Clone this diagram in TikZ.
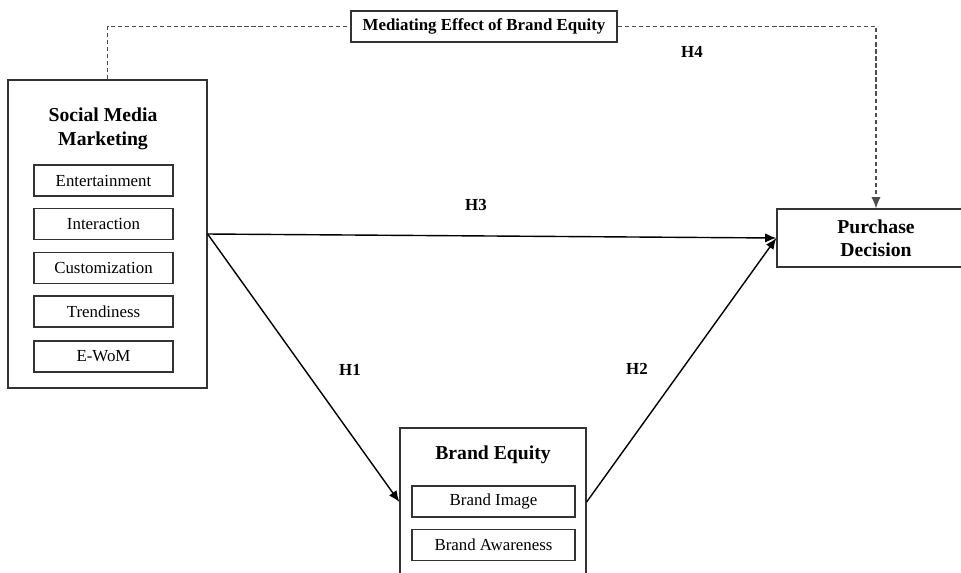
\documentclass[tikz,border=0pt]{standalone}
\usepackage{fontspec}
\setmainfont{Liberation Serif}
\usepackage{tikz}
\usetikzlibrary{arrows.meta,positioning}

\begin{document}
\begin{tikzpicture}[
    x=0.25mm, y=-0.25mm,
    font=\fontsize{12}{14}\selectfont,
    >={Latex[length=2.8mm,width=2.3mm]},
    frame/.style={rectangle, draw=black!80, line width=0.9pt, inner sep=0pt},
    item/.style={rectangle, draw=black!80, line width=0.9pt, minimum height=7.75mm,
      inner sep=0pt, align=center},
    title/.style={font=\fontsize{14}{17}\selectfont\bfseries, align=center, inner sep=0pt},
    hyp/.style={font=\fontsize{12}{14}\selectfont\bfseries, inner sep=0pt},
    flow/.style={->, line width=1pt, draw=black},
    medline/.style={line width=0.9pt, draw=black!70, dash pattern=on 3pt off 2pt}
  ]
  \useasboundingbox (0,0) rectangle (961,572);
  \clip (0,0) rectangle (961,572);
  % social media marketing
  \node[frame, minimum width=49.75mm, minimum height=77mm] (smm) at (107.5,234) {};
  \node[title] (smmt) at (103,129) {Social Media\\Marketing};
  \node[item, minimum width=34.75mm] (ent) at (103.5,180.5) {Entertainment};
  \node[item, minimum width=34.75mm, below=2.85mm of ent] (int) {Interaction};
  \node[item, minimum width=34.75mm, below=2.85mm of int] (cus) {Customization};
  \node[item, minimum width=34.75mm, below=2.85mm of cus] (tre) {Trendiness};
  \node[item, minimum width=34.75mm, below=3.2mm of tre] (ewom) {E-WoM};
  % brand equity
  \node[frame, minimum width=46.5mm, minimum height=37mm] (be) at (493,502) {};
  \node[title] (bet) at (493,455) {Brand Equity};
  \node[item, minimum width=40.75mm] (bimg) at (493.5,501.5) {Brand Image};
  \node[item, minimum width=40.75mm, below=2.75mm of bimg] (baw) {Brand Awareness};
  % purchase decision
  \node[frame, minimum width=49.5mm, minimum height=14.5mm, title] (pd) at (876,238)
    {Purchase\\[-0.5pt]Decision};
  % mediating effect
  \node[item, minimum width=66.5mm, font=\fontsize{12}{14}\selectfont\bfseries] (med)
    at (484,26.5) {Mediating Effect of Brand Equity};
  \draw[medline] (smm.north) |- (med.west);
  \draw[medline, ->] (med.east) -| (pd.north);
  \draw[flow] (smm.east) -- (pd.west);
  \draw[flow] (smm.east) -- (be.west);
  \draw[flow] (be.east) -- (pd.west);
  \node[hyp] (h1) at (350,370) {H1};
  \node[hyp] (h2) at (637,369) {H2};
  \node[hyp] (h3) at (476,205) {H3};
  \node[hyp] (h4) at (692,52) {H4};
\end{tikzpicture}
\end{document}
